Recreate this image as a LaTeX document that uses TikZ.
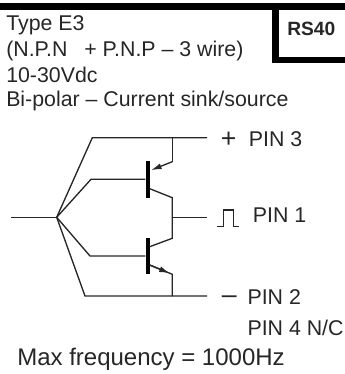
\documentclass[tikz,border=0pt]{standalone}
\usepackage{fontspec}
\setmainfont{Liberation Sans}
\usetikzlibrary{calc,arrows,arrows.meta,positioning}
\begin{document}
\begin{tikzpicture}[x=0.75pt,y=-0.75pt, wire/.style={line width=1pt,color=black!85},tip/.style={-{Latex[length=8pt,width=4.5pt]}},bar/.style={fill=black,draw=none,minimum width=3pt,minimum height=27.5pt,inner sep=0pt},band/.style={fill=black,draw=none,inner sep=0pt},txt/.style={anchor=base west,inner sep=0pt,font=\fontsize{16}{18}\selectfont,color=black!85}]
                      \useasboundingbox (0,0) rectangle (345,374);
                      % frame
                      \node[band,minimum width=258.75pt,minimum height=5.2pt] (top) at (172.5,6.5) {};
                      \node[band,minimum width=5.2pt,minimum height=42pt] (boxl) at (275.5,35) {};
                      \node[band,minimum width=54.5pt,minimum height=4.5pt] (boxb) at (308.5,60) {};
                      \node[txt,font=\fontsize{14.4}{16}\selectfont\bfseries] (rs) at (287,36) {RS40};
                      % text
                      \node[txt] (t1) at (6,30.5) {Type E3};
                      \node[txt] (t2) at (6,57) {(N.P.N \hspace{3.7pt}\ + P.N.P – 3 wire)};
                      \node[txt] (t3) at (6,82.5) {10-30Vdc};
                      \node[txt] (t4) at (6,107) {Bi-polar – Current sink/source};

                      \coordinate (in) at (11,217.3);
                      \coordinate (j) at (56.7,217.3);
                      \coordinate (a1) at (92.3,137.7);
                      \coordinate (a2) at (91,179.3);
                      \coordinate (a3) at (90,256);
                      \coordinate (a4) at (85,296);
                      \node[bar] (q1) at (147.7,179.3) {};
                      \node[bar] (q2) at (147.7,256) {};
                      \coordinate (e1) at (149.7,170.7);
                      \coordinate (c1) at (149.7,188.7);
                      \coordinate (c2) at (149.7,246.7);
                      \coordinate (e2) at (149.7,265);
                      \coordinate (r1) at (172.3,137.7);
                      \coordinate (r2) at (172.3,161.7);
                      \coordinate (r3) at (172.3,197.7);
                      \coordinate (r4) at (172.3,217.3);
                      \coordinate (r5) at (172.3,238.3);
                      \coordinate (r6) at (172.3,274.3);
                      \coordinate (r7) at (172.3,296);
                      \coordinate (p3) at (207,137.7);
                      \coordinate (p1) at (207,217.3);
                      \coordinate (p2) at (207,296);

                      \draw[wire] (in) -- (j);
                      \draw[wire] (j) -- (a1) -- (p3);
                      \draw[wire] (j) -- (a2) -- (q1.west);
                      \draw[wire] (j) -- (a3) -- (q2.west);
                      \draw[wire] (j) -- (a4) -- (p2);
                      \draw[wire] (r1) -- (r2);
                      \draw[wire,tip,shorten >=1pt] (r2) -- (e1);
                      \draw[wire] (c1) -- (r3) -- (r5) -- (c2);
                      \draw[wire] (r4) -- (p1);
                      \draw[wire,tip,shorten >=2pt] (e2) -- (r6);
                      \draw[wire] (e2) -- (r6) -- (r7);

                      % pins
                      \node[txt,font=\fontsize{20}{20}\selectfont] (plus) at (220.5,147) {+};
                      \node[txt] (l3) at (248.7,146.7) {PIN 3};
                      \coordinate (s1) at (217.3,226.7);
                      \coordinate (s2) at (223.3,226.7);
                      \coordinate (s3) at (223.3,210);
                      \coordinate (s4) at (233.3,210);
                      \coordinate (s5) at (233.3,226.7);
                      \coordinate (s6) at (239,226.7);
                      \draw[wire] (s1) -- (s2) -- (s3) -- (s4) -- (s5) -- (s6);
                      \node[txt] (l1) at (252.7,222.7) {PIN 1};
                      \node[txt,font=\fontsize{20}{20}\selectfont] (minus) at (221.5,303.5) {–};
                      \node[txt] (l2) at (247.3,304) {PIN 2};
                      \node[txt] (l4) at (247.3,335) {PIN 4 N/C};
                      \node[txt,font=\fontsize{18}{20}\selectfont] (mx) at (17,365) {Max frequency = 1000Hz};
                    \end{tikzpicture}
\end{document}
